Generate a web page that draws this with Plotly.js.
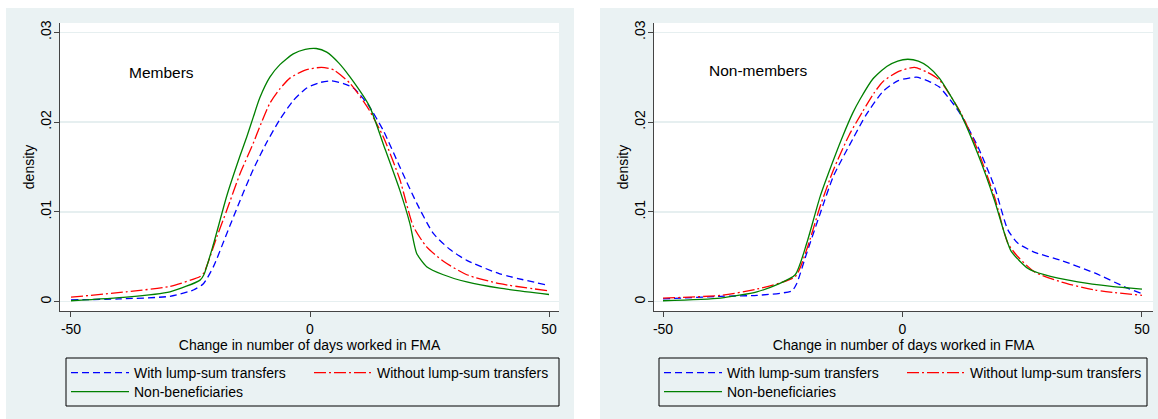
<!DOCTYPE html>
<html>
<head>
<meta charset="utf-8">
<script src="https://cdn.plot.ly/plotly-3.0.1.min.js"></script>
<style>html,body{margin:0;padding:0;background:#fff;}#chart{width:1158px;height:419px;}</style>
</head>
<body>
<div id="chart"></div>
<script>
// ---- Data ----
var seriesNames = ["With lump-sum transfers", "Without lump-sum transfers", "Non-beneficiaries"];
var panelLabels = ["Members", "Non-members"];
var xTickVals = [-50, 0, 50];
var xTickText = ["-50", "0", "50"];
var yTickVals = [0, 0.01, 0.02, 0.03];
var yTickText = ["0", ".01", ".02", ".03"];

// Members
var memWithX = [-50, -40, -29.3, -24.4, -22.3, -20.2, -17.4, -14.6, -11.9, -9.1, -6.3, -3.5, -0.7, 2, 4.5, 7, 9.1, 12.2, 15.3, 18.8, 22.3, 25.8, 29.3, 32.8, 39.7, 50];
var memWithY = [0.0002, 0.0003, 0.0006, 0.0013, 0.002, 0.0039, 0.0076, 0.0113, 0.0147, 0.0177, 0.0203, 0.0224, 0.0238, 0.0244, 0.0246, 0.0243, 0.0238, 0.0219, 0.0191, 0.015, 0.011, 0.0076, 0.0058, 0.0046, 0.0031, 0.0018];
var memWithoutX = [-50, -38.4, -29.3, -23, -22.2, -19.5, -17.4, -14.6, -11.9, -10.8, -8.4, -6.3, -4.2, -1, 2.4, 5, 8.4, 12.2, 15.3, 18.8, 21.6, 24.4, 27.9, 32.8, 39.7, 50];
var memWithoutY = [0.0005, 0.0011, 0.0017, 0.0028, 0.0032, 0.0072, 0.0102, 0.0143, 0.0176, 0.0191, 0.0221, 0.0237, 0.0249, 0.0258, 0.0261, 0.0258, 0.0243, 0.0215, 0.0184, 0.0136, 0.0084, 0.0061, 0.0045, 0.003, 0.002, 0.0012];
var memNonX = [-50, -38.4, -29.3, -23, -22.2, -20.2, -17.4, -14.6, -13.2, -11.9, -10.5, -8.4, -6.3, -3.5, -1, 1.3, 3.5, 6, 8.4, 12.5, 15.3, 18.8, 20.9, 22.3, 24.4, 27.9, 32.8, 39.7, 50];
var memNonY = [0.0001, 0.0005, 0.0011, 0.0024, 0.003, 0.0064, 0.0118, 0.0163, 0.0184, 0.0205, 0.0227, 0.025, 0.0264, 0.0276, 0.0281, 0.0282, 0.0278, 0.0266, 0.025, 0.0217, 0.0176, 0.0124, 0.0087, 0.0054, 0.0039, 0.003, 0.0022, 0.0015, 0.0008];

// Non-members
var nonWithX = [-50, -38, -30.4, -23.1, -22.1, -20, -17.2, -14.4, -10.4, -7.6, -4.1, -1, 2.9, 5.3, 7.7, 10.5, 12.2, 15.7, 19.2, 22, 24.1, 27.6, 33.1, 40.1, 47, 50];
var nonWithY = [0.0003, 0.0006, 0.0007, 0.0012, 0.002, 0.0054, 0.0098, 0.014, 0.0181, 0.0208, 0.0234, 0.0246, 0.025, 0.0246, 0.0239, 0.0221, 0.0208, 0.0173, 0.0128, 0.008, 0.0065, 0.0055, 0.0046, 0.0032, 0.0015, 0.0009];
var nonWithoutX = [-50, -38, -30.4, -22.4, -20, -17.2, -14.4, -11.1, -8.3, -6, -4.1, -1, 2.5, 5, 7.7, 12.2, 15.7, 19.2, 22, 24.1, 27.6, 33.1, 40.1, 50];
var nonWithoutY = [0.0004, 0.0007, 0.0014, 0.0028, 0.0058, 0.0106, 0.0147, 0.0186, 0.0212, 0.0232, 0.0245, 0.0256, 0.0261, 0.0256, 0.0247, 0.021, 0.0169, 0.0117, 0.0065, 0.005, 0.0033, 0.0022, 0.0013, 0.0007];
var nonNonX = [-50, -38, -30.4, -26.2, -22.4, -20, -17.2, -14.4, -12.5, -10.4, -8.8, -6.2, -3.3, -1, 1.1, 3.3, 5.3, 7.7, 11.9, 15.7, 19.2, 21.3, 22.7, 26.2, 29.6, 36.6, 43.6, 50];
var nonNonY = [0.0001, 0.0004, 0.0011, 0.0019, 0.003, 0.0065, 0.0117, 0.0158, 0.0184, 0.021, 0.0226, 0.0248, 0.0262, 0.0268, 0.027, 0.0268, 0.0262, 0.0249, 0.0212, 0.0165, 0.0113, 0.0076, 0.0056, 0.0037, 0.003, 0.0022, 0.0017, 0.0014];

// ---- Styling ----
var W = 1158, H = 419;
var FONT = "Liberation Sans, Arial, Helvetica, sans-serif";
var BG = "#eaf2f3";
var styles = [
  {color: "#0000ff", dash: "7px,4px", width: 1.3},
  {color: "#ff0000", dash: "12px,3px,2px,3px", width: 1.3},
  {color: "#008000", dash: "solid", width: 1.3}
];
function px(x) { return x / W; }
function py(y) { return 1 - y / H; }

function mk(x, y, i, xa, ya, legendId) {
  return {
    type: "scatter", mode: "lines", x: x, y: y, name: seriesNames[i],
    xaxis: xa, yaxis: ya, legend: legendId, showlegend: true,
    line: {color: styles[i].color, dash: styles[i].dash, width: styles[i].width, shape: "spline", smoothing: 0.6},
    hoverinfo: "skip"
  };
}

var traces = [
  mk(memWithX, memWithY, 0, "x", "y", "legend"),
  mk(memWithoutX, memWithoutY, 1, "x", "y", "legend"),
  mk(memNonX, memNonY, 2, "x", "y", "legend2"),
  mk(nonWithX, nonWithY, 0, "x2", "y2", "legend3"),
  mk(nonWithoutX, nonWithoutY, 1, "x2", "y2", "legend3"),
  mk(nonNonX, nonNonY, 2, "x2", "y2", "legend4")
];

function xaxisCfg(domain, range, anchor) {
  return {
    domain: domain, range: range, anchor: anchor,
    tickvals: xTickVals, ticktext: xTickText,
    ticks: "outside", ticklen: 5, tickwidth: 1, tickcolor: "#444",
    showline: true, linecolor: "#444", linewidth: 1,
    showgrid: false, zeroline: false, mirror: false,
    tickfont: {family: FONT, size: 14, color: "#000"},
    title: {text: "Change in number of days worked in FMA", font: {family: FONT, size: 14, color: "#000"}, standoff: 0},
    automargin: true, fixedrange: true
  };
}
function yaxisCfg(domain, anchor) {
  return {
    domain: domain, range: [-0.00104, 0.03104], anchor: anchor,
    tickvals: yTickVals, ticktext: yTickText, tickangle: -90,
    ticks: "outside", ticklen: 5, tickwidth: 1, tickcolor: "#444",
    ticklabelstandoff: -3,
    showline: true, linecolor: "#444", linewidth: 1,
    showgrid: true, gridcolor: "#e6eff0", gridwidth: 1.5, zeroline: false,
    tickfont: {family: FONT, size: 14, color: "#000"},
    title: {text: "density", font: {family: FONT, size: 14, color: "#000"}, standoff: 0},
    automargin: true, fixedrange: true
  };
}

function legendCfg(xPix, yPix) {
  return {
    x: px(xPix), xanchor: "left", y: py(yPix), yanchor: "middle",
    orientation: "h", bgcolor: "rgba(0,0,0,0)", borderwidth: 0,
    font: {family: FONT, size: 14, color: "#000"},
    itemwidth: 58, entrywidth: 170, traceorder: "normal",
    itemclick: false, itemdoubleclick: false
  };
}

var yDom = [py(311), py(23)];
var layout = {
  width: W, height: H,
  margin: {l: 0, r: 0, t: 0, b: 0, pad: 0, autoexpand: false},
  paper_bgcolor: BG, plot_bgcolor: "#ffffff",
  showlegend: true,
  xaxis: xaxisCfg([px(60), px(559)], [-52.3, 52.09], "y"),
  yaxis: yaxisCfg(yDom, "x"),
  xaxis2: xaxisCfg([px(654), px(1153)], [-51.88, 52.3], "y2"),
  yaxis2: yaxisCfg(yDom, "x2"),
  legend: legendCfg(66, 373),
  legend2: legendCfg(66, 392),
  legend3: legendCfg(659, 373),
  legend4: legendCfg(659, 392),
  shapes: [
    {type: "rect", xref: "paper", yref: "paper", x0: 0, x1: px(6), y0: 0, y1: 1, fillcolor: "#ffffff", line: {width: 0}, layer: "below"},
    {type: "rect", xref: "paper", yref: "paper", x0: 0, x1: 1, y0: py(8), y1: 1, fillcolor: "#ffffff", line: {width: 0}, layer: "below"},
    {type: "rect", xref: "paper", yref: "paper", x0: px(574), x1: px(600), y0: 0, y1: 1, fillcolor: "#ffffff", line: {width: 0}, layer: "below"},
    {type: "rect", xref: "paper", yref: "paper", x0: px(66), x1: px(559), y0: py(406), y1: py(358), fillcolor: "rgba(0,0,0,0)", line: {color: "#000", width: 1}},
    {type: "rect", xref: "paper", yref: "paper", x0: px(659), x1: px(1147), y0: py(406), y1: py(358), fillcolor: "rgba(0,0,0,0)", line: {color: "#000", width: 1}}
  ],
  annotations: [
    {text: panelLabels[0], xref: "paper", yref: "paper", x: px(127), y: py(73), xanchor: "left", yanchor: "middle", showarrow: false, font: {family: FONT, size: 15.5, color: "#000"}},
    {text: panelLabels[1], xref: "paper", yref: "paper", x: px(707), y: py(71), xanchor: "left", yanchor: "middle", showarrow: false, font: {family: FONT, size: 15.5, color: "#000"}}
  ]
};

Plotly.newPlot("chart", traces, layout, {displayModeBar: false, staticPlot: true});
</script>
</body>
</html>
